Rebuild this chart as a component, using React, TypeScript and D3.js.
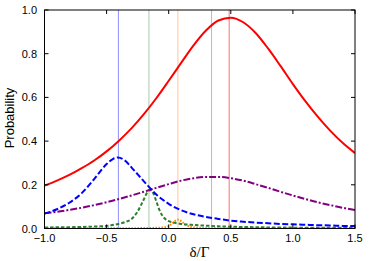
import React from "react";
import * as d3 from "d3";

const W = 374;
const H = 261;

const xTicks = [-1.0, -0.5, 0.0, 0.5, 1.0, 1.5];
const yTicks = [0.0, 0.2, 0.4, 0.6, 0.8, 1.0];

const gridX = [-1.0, -0.9, -0.8, -0.7, -0.6, -0.5, -0.4, -0.3, -0.2, -0.1, 0.0, 0.1, 0.2, 0.3, 0.4, 0.5, 0.6, 0.7, 0.8, 0.9, 1.0, 1.1, 1.2, 1.3, 1.4, 1.5];

const redY = [0.196, 0.219, 0.245, 0.276, 0.311, 0.353, 0.402, 0.458, 0.523, 0.596, 0.676, 0.758, 0.838, 0.906, 0.952, 0.965, 0.944, 0.895, 0.824, 0.744, 0.661, 0.583, 0.512, 0.448, 0.392, 0.345];

const purpleY = [0.07, 0.076, 0.085, 0.095, 0.107, 0.12, 0.135, 0.151, 0.168, 0.186, 0.203, 0.219, 0.23, 0.236, 0.236, 0.23, 0.219, 0.203, 0.186, 0.168, 0.151, 0.135, 0.12, 0.107, 0.095, 0.085];

const blueX = [-1.0, -0.9, -0.8, -0.7, -0.6, -0.5, -0.45, -0.41, -0.35, -0.3, -0.2, -0.1, 0.0, 0.1, 0.2, 0.3, 0.4, 0.5, 0.6, 0.7, 0.8, 0.9, 1.0, 1.1, 1.2, 1.3, 1.4, 1.5];
const blueY = [0.068, 0.088, 0.118, 0.162, 0.226, 0.295, 0.318, 0.325, 0.31, 0.28, 0.216, 0.156, 0.113, 0.084, 0.065, 0.053, 0.044, 0.036, 0.031, 0.027, 0.024, 0.021, 0.019, 0.017, 0.015, 0.014, 0.012, 0.011];

const greenX = [-1.0, -0.8, -0.6, -0.5, -0.4, -0.35, -0.3, -0.25, -0.2, -0.175, -0.15, -0.125, -0.1, -0.075, -0.05, -0.025, 0.0, 0.05, 0.1, 0.2, 0.3, 0.4, 0.6, 0.8, 1.0, 1.25, 1.5];
const greenY = [0.005, 0.006, 0.009, 0.012, 0.022, 0.03, 0.043, 0.078, 0.134, 0.163, 0.176, 0.162, 0.125, 0.085, 0.058, 0.042, 0.034, 0.026, 0.021, 0.016, 0.013, 0.01, 0.007, 0.005, 0.004, 0.003, 0.003];

const orangeX = [-1.0, -0.5, -0.2, -0.1, -0.05, 0.0, 0.025, 0.05, 0.075, 0.1, 0.125, 0.15, 0.2, 0.3, 0.5, 1.0, 1.5];
const orangeY = [0.001, 0.001, 0.002, 0.003, 0.005, 0.011, 0.022, 0.034, 0.04, 0.034, 0.022, 0.013, 0.006, 0.002, 0.001, 0.001, 0.001];

const vLineX = [-0.405, -0.159, 0.074, 0.345, 0.487];
const vLineColor = ["#8f8fff", "#a9c9a9", "#ffc898", "#d9a3e3", "#ff7070"];

export default function App() {
  const left = 44.5, right = 355, top = 10, bottom = 228.5;
  const x = d3.scaleLinear().domain([-1, 1.5]).range([left, right]);
  const y = d3.scaleLinear().domain([0, 1]).range([bottom, top]);

  const line = d3
    .line<[number, number]>()
    .x((d) => x(d[0]))
    .y((d) => y(d[1]))
    .curve(d3.curveMonotoneX);

  const zip = (xs: number[], ys: number[]) => xs.map((v, i) => [v, ys[i]] as [number, number]);

  const sans = "'Liberation Sans', Arial, Helvetica, sans-serif";

  return (
    <svg width={W} height={H} style={{ position: "absolute", left: 0, top: 0 }} xmlns="http://www.w3.org/2000/svg">
      <rect x={0} y={0} width={W} height={H} fill="#fff" />
      <defs>
        <clipPath id="plotclip">
          <rect x={left} y={top} width={right - left} height={bottom - top} />
        </clipPath>
      </defs>
      {vLineX.map((v, i) => (
        <line
          key={"v" + i}
          x1={x(v)}
          x2={x(v)}
          y1={top}
          y2={bottom}
          stroke={vLineColor[i]}
          strokeWidth={1}
        />
      ))}
      <g clipPath="url(#plotclip)" fill="none">
        <path d={line(zip(orangeX, orangeY)) || ""} stroke="#ff8c00" strokeWidth={2} strokeDasharray="1.5,1.5" />
        <path d={line(zip(greenX, greenY)) || ""} stroke="#2e7d32" strokeWidth={2} strokeDasharray="3.5,2" />
        <path d={line(zip(gridX, purpleY)) || ""} stroke="#800080" strokeWidth={2} strokeDasharray="7,2,2,2" />
        <path d={line(zip(blueX, blueY)) || ""} stroke="#0000ff" strokeWidth={2} strokeDasharray="6,2.5" />
        <path d={line(zip(gridX, redY)) || ""} stroke="#ff0000" strokeWidth={2} />
      </g>
      {xTicks.map((t, i) => (
        <g key={"xt" + i}>
          <line x1={x(t)} x2={x(t)} y1={bottom} y2={bottom - 4} stroke="#000" />
          <line x1={x(t)} x2={x(t)} y1={top} y2={top + 4} stroke="#000" />
          <text x={x(t)} y={242} textAnchor="middle" fontFamily={sans} fontSize={11} fill="#000">
            {t < 0 ? "\u2212" + Math.abs(t).toFixed(1) : t.toFixed(1)}
          </text>
        </g>
      ))}
      {yTicks.map((t, i) => (
        <g key={"yt" + i}>
          <line x1={left} x2={left + 4} y1={y(t)} y2={y(t)} stroke="#000" />
          <line x1={right} x2={right - 4} y1={y(t)} y2={y(t)} stroke="#000" />
          <text x={37} y={y(t) + 4} textAnchor="end" fontFamily={sans} fontSize={11} fill="#000">
            {t.toFixed(1)}
          </text>
        </g>
      ))}
      <rect x={left} y={top} width={right - left} height={bottom - top} fill="none" stroke="#000" strokeWidth={1} />
      <text x={199.5} y={257} textAnchor="middle" fontFamily="'Liberation Serif', 'Times New Roman', serif" fontSize={15} fill="#000">
        δ/Γ
      </text>
      <text
        transform={`translate(14,118) rotate(-90)`}
        textAnchor="middle"
        fontFamily={sans}
        fontSize={13}
        fill="#000"
      >
        Probability
      </text>
    </svg>
  );
}
